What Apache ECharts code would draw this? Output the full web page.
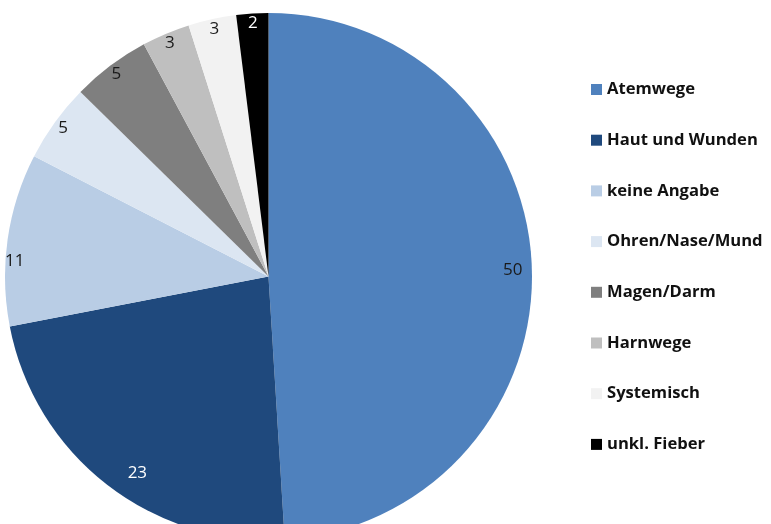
<!DOCTYPE html>
<html><head><meta charset="utf-8">
<script src="https://cdn.jsdelivr.net/npm/echarts@6/dist/echarts.min.js"></script>
<style>html,body{margin:0;padding:0;background:#fff}#c{width:771px;height:524px}</style>
</head><body><div id="c"></div>
<script>
const categories = ['Atemwege','Haut und Wunden','keine Angabe','Ohren/Nase/Mund','Magen/Darm','Harnwege','Systemisch','unkl. Fieber'];
// slice sizes; labels shown rounded
const values = [50, 23.4, 10.8, 4.9, 4.9, 3, 3, 2];
const colors = ['#4F81BD','#1F497D','#B9CDE5','#DCE6F2','#7F7F7F','#BFBFBF','#F2F2F2','#000000'];
const labelColors = ['#1a1a1a','#ffffff','#1a1a1a','#1a1a1a','#1a1a1a','#1a1a1a','#1a1a1a','#ffffff'];
// small label nudges (px) to mimic the original label placement
const labelNudge = { 0: [-9, 1], 1: [24, -4], 2: [-3, 20] };

const R = 263.5;
const center = [268.5, 276.5];
const chart = echarts.init(document.getElementById('c'));
chart.setOption({
  animation: false,
  legend: {
    orient: 'vertical', left: 586, top: 74.5,
    itemWidth: 11, itemHeight: 11, itemGap: 30.7,
    icon: 'rect',
    data: categories,
    textStyle: { fontFamily: 'Open Sans', fontWeight: 'bold', fontSize: 16.6, color: '#111', lineHeight: 20 }
  },
  series: [
    {
      type: 'pie', center: center, radius: [0, R], startAngle: 90, clockwise: true,
      silent: true,
      label: { show: false }, labelLine: { show: false },
      data: categories.map((n, i) => ({ name: n, value: values[i], itemStyle: { color: colors[i] } }))
    },
    {
      type: 'pie', center: center, radius: [R * 0.9, R], startAngle: 90, clockwise: true,
      silent: true, legendHoverLink: false,
      itemStyle: { color: 'rgba(0,0,0,0)' },
      label: { show: true, position: 'inside', fontFamily: 'Open Sans', fontSize: 17,
        formatter: p => String(Math.round(p.value)) },
      labelLine: { show: false },
      labelLayout: p => {
        const n = labelNudge[p.dataIndex];
        return n ? { dx: n[0], dy: n[1] } : {};
      },
      data: categories.map((n, i) => ({ name: n, value: values[i], itemStyle: { color: 'rgba(0,0,0,0)' }, label: { color: labelColors[i] } }))
    }
  ]
});
</script></body></html>
